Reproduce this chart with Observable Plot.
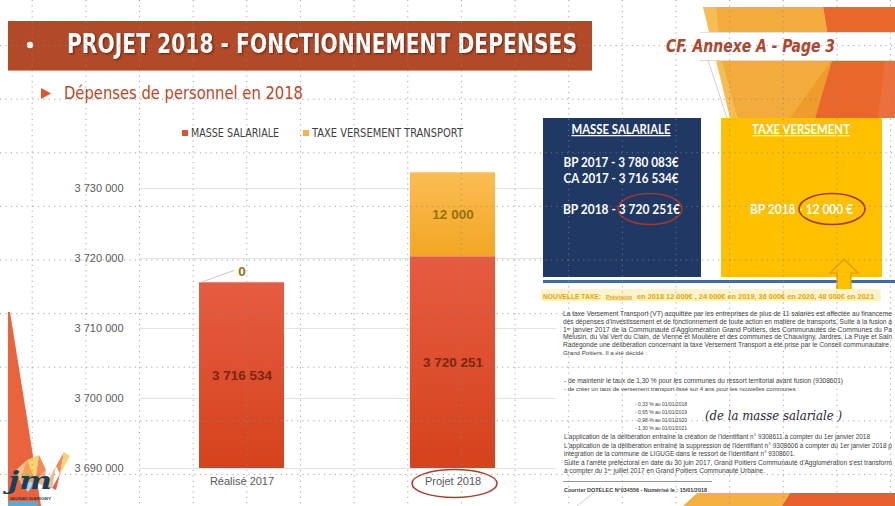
<!DOCTYPE html>
<html><head><meta charset="utf-8">
<script src="https://cdn.jsdelivr.net/npm/d3@7"></script>
<script src="https://cdn.jsdelivr.net/npm/@observablehq/plot@0.6"></script>
<style>
  html,body{margin:0;padding:0;background:#fff;}
  #slide{position:relative;width:895px;height:506px;overflow:hidden;background:#fff;}
  #slide > svg{position:absolute;left:0;top:0;}
</style>
</head><body><div id="slide"></div>
<script>
// ---------- DATA ----------
const categories = ["Réalisé 2017", "Projet 2018"];
const seriesNames = ["MASSE SALARIALE", "TAXE VERSEMENT TRANSPORT"];
const masseSalariale = [3716534, 3720251];
const taxeVersementTransport = [0, 12000];
const yTicks = [3690000, 3700000, 3710000, 3720000, 3730000];
const yDomain = [3690000, 3740000];
const swatchColors = ["#e14f2d", "#f7b33d"];
const gradientStops = [["#e65c41", "#d5421c"], ["#fbbd52", "#f2a623"]];
const labelColors = ["#7c2610", "#94720b"];
const bp2017Masse = 3780083;
const ca2017Masse = 3716534;
const panelTitles = ["MASSE SALARIALE", "TAXE VERSEMENT"];
const tauxLignes = ["- 0,33 % au 01/01/2018", "- 0,65 % au 01/01/2019", "- 0,98 % au 01/01/2020", "- 1,30 % au 01/01/2021"];

const FONT = "'Liberation Sans', Arial, sans-serif";
const NARROW = "'Liberation Sans Narrow', 'DejaVu Sans Condensed', 'Liberation Sans', sans-serif";
const CAL = "Lato, 'Open Sans', 'Liberation Sans', sans-serif";
const fr = d3.formatLocale({decimal: ",", thousands: " ", grouping: [3], currency: ["", "€"]});
const fmt = fr.format(",d");

const W = 895, H = 506;
const slide = d3.select("#slide");

function txt(sel, s, x, y, o = {}) {
  const t = sel.append("text").attr("x", x).attr("y", y).text(s);
  for (const k in o) t.attr(k, o[k]);
  return t;
}
// small text: scale the font so its natural width equals the target width
function fitTxt(sel, s, x, y, w, o = {}) {
  const t = sel.append("text").attr("x", x).attr("y", y).text(s);
  for (const k in o) t.attr(k, o[k]);
  const fs = +o["font-size"];
  const nat = t.node().getComputedTextLength();
  if (nat > 0) t.attr("font-size", (fs * w / nat).toFixed(3));
  t.attr("textLength", w).attr("lengthAdjust", "spacingAndGlyphs");
  return t;
}

// ---------- BACKGROUND SLIDE DECORATION ----------
const bg = slide.append("svg").attr("width", W).attr("height", H);
bg.append("polygon").attr("points", "703,7 823,7 832,60 815,118 737,118").attr("fill", "#f3ab3c");
bg.append("polygon").attr("points", "703,7 716,7 722,60 737,118 730,118").attr("fill", "#f6bd55");
bg.append("polygon").attr("points", "790,118 815,118 832,60").attr("fill", "#ee9c2c");
bg.append("polygon").attr("points", "823,7 895,7 895,118 815,118 832,60").attr("fill", "#e9672b");
bg.append("polygon").attr("points", "885,60 895,60 895,118 878,118").attr("fill", "#ec6f3e");
bg.append("rect").attr("x", 600).attr("y", 32).attr("width", 295).attr("height", 28).attr("fill", "#fff");
bg.append("line").attr("x1", 700).attr("x2", 895).attr("y1", 32.5).attr("y2", 32.5).attr("stroke", "#e2e2e2");
bg.append("line").attr("x1", 700).attr("x2", 895).attr("y1", 60.5).attr("y2", 60.5).attr("stroke", "#e8d8c8");
bg.append("line").attr("x1", 708).attr("y1", 60).attr("x2", 727).attr("y2", 118).attr("stroke", "#cfcfcf").attr("stroke-width", 1);

// title bar
bg.append("rect").attr("x", 8).attr("y", 21).attr("width", 584).attr("height", 49).attr("fill", "#b34a27");
bg.append("line").attr("x1", 8).attr("x2", 592).attr("y1", 70.5).attr("y2", 70.5).attr("stroke", "#d99a80");
bg.append("circle").attr("cx", 30).attr("cy", 45).attr("r", 3.2).attr("fill", "#fff");
txt(bg, "PROJET 2018 - FONCTIONNEMENT DEPENSES", 67, 53, {
  "font-family": NARROW, "font-size": 26, "font-weight": "bold", fill: "#fff",
  textLength: 510, lengthAdjust: "spacingAndGlyphs",
  style: "filter: drop-shadow(1.5px 1.5px 1px rgba(50,15,0,0.65))"
});
txt(bg, "CF. Annexe A - Page 3", 666, 52, {
  "font-family": NARROW, "font-size": 18, "font-weight": "bold", "font-style": "italic", fill: "#b0452b",
  textLength: 169, lengthAdjust: "spacingAndGlyphs"
});
// subtitle
bg.append("polygon").attr("points", "41,88 51,93.5 41,99").attr("fill", "#e5532a");
txt(bg, "Dépenses de personnel en 2018", 64, 99, {
  "font-family": NARROW, "font-size": 17, fill: "#c2451f", textLength: 239, lengthAdjust: "spacingAndGlyphs"
});
// left wedge
bg.append("polygon").attr("points", "8,312 10,312 41,506 8,506").attr("fill", "#e9633d");
// bottom-right shapes
bg.append("line").attr("x1", 577).attr("y1", 506).attr("x2", 601).attr("y2", 487).attr("stroke", "#d0d0d0");
bg.append("polygon").attr("points", "683,506 697,493 790,493 782,506").attr("fill", "#f4b040");
bg.append("polygon").attr("points", "782,506 790,493 895,493 895,506").attr("fill", "#e85f2d");

// ---------- CHART (Observable Plot) ----------
const rows = [];
categories.forEach((cat, i) => {
  let base = 0;
  [masseSalariale[i], taxeVersementTransport[i]].forEach((v, s) => {
    rows.push({cat, series: seriesNames[s], s, value: v, y1: base, y2: base + v});
    base += v;
  });
});
rows.forEach(r => r.mid = (Math.max(r.y1, yDomain[0]) + r.y2) / 2);

const chart = Plot.plot({
  width: 560, height: 506,
  marginLeft: 139, marginRight: 4, marginTop: 118, marginBottom: 38,
  style: {background: "transparent", fontFamily: FONT, fontSize: "11px", color: "#595959", overflow: "visible"},
  x: {domain: categories, paddingInner: 0.597, paddingOuter: 0.2866, label: null, tickSize: 0, tickPadding: 9},
  y: {domain: yDomain, ticks: yTicks, tickFormat: fmt, label: null, tickSize: 0, tickPadding: 16, clamp: true},
  color: {domain: seriesNames, range: ["url(#gradMasse)", "url(#gradTaxe)"]},
  marks: [
    Plot.ruleY(yTicks, {stroke: "#e3e3e3", strokeWidth: 1}),
    Plot.barY(rows, Plot.stackY({x: "cat", y: "value", fill: "series", inset: 0})),
    Plot.text(rows.filter(r => r.s === 0), {x: "cat", y: "mid", text: d => fmt(d.value), fill: labelColors[0], fontSize: 13.5, fontWeight: "bold"}),
    Plot.text(rows.filter(r => r.s === 1 && r.value > 0), {x: "cat", y: "mid", text: d => fmt(d.value), fill: labelColors[1], fontSize: 13.5, fontWeight: "bold"}),
    Plot.text(rows.filter(r => r.s === 1 && r.value === 0), {x: "cat", y: "y2", dy: -11, text: d => fmt(d.value), fill: labelColors[1], fontSize: 13.5, fontWeight: "bold"})
  ]
});
slide.node().appendChild(chart);
const csvg = d3.select(chart);
const defs = csvg.insert("defs", ":first-child");
[["gradMasse", gradientStops[0]], ["gradTaxe", gradientStops[1]]].forEach(([id, st]) => {
  const g = defs.append("linearGradient").attr("id", id).attr("x1", 0).attr("y1", 0).attr("x2", 0).attr("y2", 1);
  g.append("stop").attr("offset", "0%").attr("stop-color", st[0]);
  g.append("stop").attr("offset", "100%").attr("stop-color", st[1]);
});
// leader line for the zero label
(function () {
  const sx = chart.scale("x"), sy = chart.scale("y");
  let bx, bw, yv;
  if (sx && typeof sx.apply === "function") { bx = sx.apply; bw = sx.bandwidth; }
  else {
    const b = d3.scaleBand(sx.domain, sx.range).paddingInner(sx.paddingInner).paddingOuter(sx.paddingOuter).align(sx.align ?? 0.5);
    bx = b; bw = b.bandwidth();
  }
  if (sy && typeof sy.apply === "function") yv = sy.apply;
  else yv = d3.scaleLinear(sy.domain, sy.range);
  rows.filter(r => r.s === 1 && r.value === 0).forEach(r => {
    const x0 = bx(r.cat), yt = yv(r.y2);
    csvg.append("line").attr("x1", x0 + 2).attr("y1", yt).attr("x2", x0 + bw / 2 - 7).attr("y2", yt - 12)
      .attr("stroke", "#c9c9c9").attr("stroke-width", 1);
  });
})();

// ---------- FOREGROUND ----------
const fg = slide.append("svg").attr("width", W).attr("height", H).style("pointer-events", "none");
// legend
const legendX = [[182, 191, 88], [303, 312, 151]];
seriesNames.forEach((n, i) => {
  fg.append("rect").attr("x", legendX[i][0]).attr("y", 130).attr("width", 6).attr("height", 6).attr("fill", swatchColors[i]);
  txt(fg, n, legendX[i][1], 137, {"font-family": NARROW, "font-size": 11.5, fill: "#404040", textLength: legendX[i][2], lengthAdjust: "spacingAndGlyphs"});
});
// ellipse around Projet 2018
fg.append("ellipse").attr("cx", 454.5).attr("cy", 483.5).attr("rx", 42.5).attr("ry", 14).attr("fill", "none").attr("stroke", "#a93c2b").attr("stroke-width", 1.5);

// right panel
fg.append("rect").attr("x", 543).attr("y", 118).attr("width", 158).attr("height", 159).attr("fill", "#1f3864");
fg.append("rect").attr("x", 721).attr("y", 118).attr("width", 161).attr("height", 159).attr("fill", "#ffc000");
const ps = {"font-family": CAL, "font-weight": "bold", fill: "#fff", "text-anchor": "middle", "font-size": 12.5, lengthAdjust: "spacingAndGlyphs"};
txt(fg, panelTitles[0], 621, 134, {...ps, textLength: 99, "text-decoration": "underline"});
txt(fg, panelTitles[1], 801, 134, {...ps, textLength: 98, "text-decoration": "underline"});
txt(fg, "BP 2017 - " + fmt(bp2017Masse) + "€", 621, 167, {...ps, textLength: 115});
txt(fg, "CA 2017 - " + fmt(ca2017Masse) + "€", 621, 183, {...ps, textLength: 115});
txt(fg, "BP 2018 - " + fmt(masseSalariale[1]) + "€", 621.5, 214, {...ps, textLength: 117});
txt(fg, "BP 2018 - " + fmt(taxeVersementTransport[1]) + " €", 801.5, 214, {...ps, textLength: 103});
fg.append("ellipse").attr("cx", 650).attr("cy", 209).attr("rx", 32).attr("ry", 15.5).attr("fill", "none").attr("stroke", "#a5362a").attr("stroke-width", 1.6);
fg.append("ellipse").attr("cx", 832).attr("cy", 209).attr("rx", 33).attr("ry", 15.5).attr("fill", "none").attr("stroke", "#a5362a").attr("stroke-width", 1.6);
fg.append("rect").attr("x", 543).attr("y", 280).attr("width", 352).attr("height", 3).attr("fill", "#4068b0");
fg.append("polygon").attr("points", "844,259 858,273 851,273 851,290 837,290 837,273 830,273").attr("fill", "#ffc000").attr("stroke", "#dc9806").attr("stroke-width", 1.2);
fg.append("rect").attr("x", 541).attr("y", 289).attr("width", 340).attr("height", 12).attr("fill", "#fff3c9");
const ntStyle = {"font-family": FONT, "font-size": 8, "font-weight": "bold", fill: "#e5a116"};
fitTxt(fg, "NOUVELLE TAXE:", 543, 298.5, 58, ntStyle);
fitTxt(fg, "Prévision", 606, 298.5, 26, {...ntStyle, "text-decoration": "underline"});
fitTxt(fg, "en 2018 12 000€ , 24 000€ en 2019, 36 000€ en 2020, 48 000€ en 2021", 637, 298.5, 237, ntStyle);

// document paragraph
const docLines = [
  ["La taxe Versement Transport (VT) acquittée par les entreprises de plus de 11 salariés est affectée au financeme", 563, 313.6, 329],
  ["des dépenses d'investissement et de fonctionnement de toute action en matière de transports. Suite à la fusion a", 563, 321.4, 329],
  ["1ᵉʳ janvier 2017 de la Communauté d'Agglomération Grand Poitiers, des Communautés de Communes du Pa", 563, 329.2, 329],
  ["Mélusin, du Val Vert du Clain, de Vienne et Moulière et des communes de Chauvigny, Jardres, La Puye et Sain", 563, 337, 329],
  ["Radegonde une délibération concernant la taxe Versement Transport a été prise par le Conseil communautaire", 563, 344.8, 326],
  ["Grand Poitiers. Il a été décidé :", 563, 352.6, 84],
  ["- de maintenir le taux de 1,30 % pour les communes du ressort territorial avant fusion (9308601)", 564, 381, 279],
  ["- de créer un taux de versement transport lissé sur 4 ans pour les nouvelles communes :", 564, 389, 235],
  [tauxLignes[0], 635, 403.5, 52], [tauxLignes[1], 635, 411.5, 52], [tauxLignes[2], 635, 419.5, 52], [tauxLignes[3], 635, 427.5, 52],
  ["L'application de la délibération entraîne la création de l'identifiant n° 9308611 à compter du 1er janvier 2018", 564, 437, 306],
  ["L'application de la délibération entraîne la suppression de l'identifiant n° 9308606 à compter du 1er janvier 2018 p", 564, 445.5, 328],
  ["intégration de la commune de LIGUGE dans le ressort de l'identifiant n° 9308601.", 564, 454, 231],
  ["Suite à l'arrêté préfectoral en date du 30 juin 2017,  Grand Poitiers Communauté d'Agglomération s'est transform", 564, 462.5, 328],
  ["à compter du 1ᵉʳ juillet 2017 en Grand Poitiers Communauté Urbaine.", 564, 471, 201]
];
docLines.forEach(([s, x, cy, w]) => {
  fitTxt(fg, s, x, cy + 2.3, w, {"font-family": FONT, "font-size": 7, fill: "#3e3e3e"});
});
txt(fg, "(de  la  masse  salariale  )", 705, 420, {"font-family": "'DejaVu Serif', serif", "font-style": "italic", "font-size": 12, fill: "#262633", textLength: 137, lengthAdjust: "spacingAndGlyphs"});
fg.append("line").attr("x1", 563).attr("x2", 712).attr("y1", 481.5).attr("y2", 481.5).attr("stroke", "#6a6a6a").attr("stroke-width", 0.7);
fitTxt(fg, "Courrier DOTELEC N°034556 - Numérisé le : 15/01/2018", 564, 491.5, 143, {"font-family": FONT, "font-size": 6.5, "font-weight": "bold", fill: "#3a3a3a"});

// logo
const logoTris = [
  ["20,482 27,460 35,482", "#f4a259"], ["27,460 39,455 35,482", "#f8d46e"], ["35,482 39,455 46,470", "#f28b5a"],
  ["16,470 27,460 20,482", "#f6c08e"], ["20,482 35,482 28,492", "#a9d8e6"], ["35,482 46,470 44,486", "#f3b27e"],
  ["44,488 56,466 52,488", "#f5b98a"], ["56,466 64,452 60,474", "#f08b55"], ["64,452 70,456 60,474", "#f8d27a"],
  ["52,488 60,474 56,490", "#e8604a"]
];
logoTris.forEach(([p, c]) => fg.append("polygon").attr("points", p).attr("fill", c));
fg.append("rect").attr("x", 8).attr("y", 501).attr("width", 30).attr("height", 5).attr("fill", "#4fb0d6");
txt(fg, "jm", 8, 489, {"font-family": "'DejaVu Serif', serif", "font-style": "italic", "font-weight": "bold", "font-size": 24, fill: "#173f5f", textLength: 44, lengthAdjust: "spacingAndGlyphs"});
txt(fg, "JAUNAY-MARIGNY", 9, 500, {"font-family": FONT, "font-size": 4, "font-weight": "bold", fill: "#173f5f", textLength: 42, lengthAdjust: "spacingAndGlyphs"});

// slide guide grid (dotted)
const grid = fg.append("g").attr("stroke", "#888").attr("stroke-opacity", 0.75).attr("stroke-width", 1).attr("stroke-dasharray", "1.2 4.2");
for (let x = 32.2; x < W; x += 53.65) grid.append("line").attr("x1", x).attr("x2", x).attr("y1", 0).attr("y2", H);
for (let y = 45.6; y < H; y += 53.6) grid.append("line").attr("x1", 0).attr("x2", W).attr("y1", y).attr("y2", y);
</script>
</body></html>
